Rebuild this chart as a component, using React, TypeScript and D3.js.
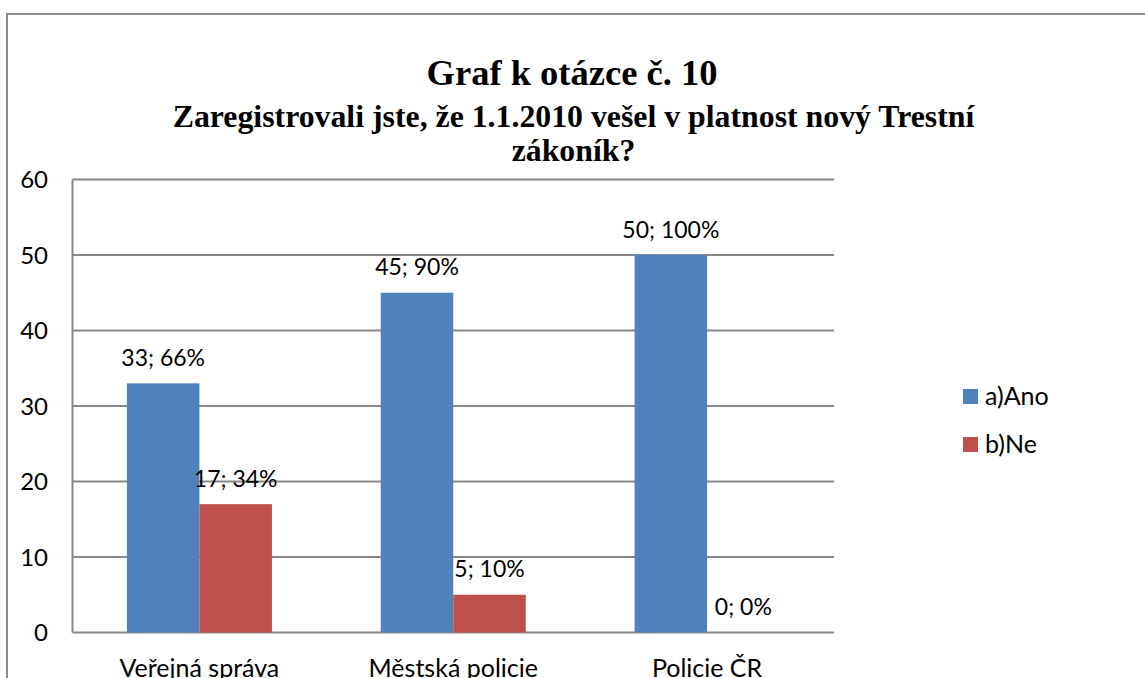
import React from 'react'
import * as d3 from 'd3'

const categories = ['Veřejná správa', 'Městská policie', 'Policie ČR']
const seriesNames = ['a)Ano', 'b)Ne']
const ano = [33, 45, 50]
const ne = [17, 5, 0]
const anoPct = ['66%', '90%', '100%']
const nePct = ['34%', '10%', '0%']
const yTicks = [0, 10, 20, 30, 40, 50, 60]
const colors = ['#4F81BD', '#C0504D']

const W = 1145, H = 678
const plot = { left: 72.5, right: 834, top: 179.5, bottom: 632.5 }
const labelFont = 'Lato, "Open Sans", sans-serif'
const titleFont = '"Liberation Serif", "Times New Roman", serif'

const App = () => {
    const x0 = d3.scaleBand<string>()
        .domain(categories)
        .range([plot.left, plot.right])
    // excel gap width 150% -> bar = band / 3.5
    const barW = x0.bandwidth() / 3.5
    const y = d3.scaleLinear().domain([0, 60]).range([plot.bottom, plot.top])

    const series = [ano, ne]
    const pcts = [anoPct, nePct]

    return (
        <svg width={W} height={H} style={{ position: 'absolute', left: 0, top: 0, background: '#fff' }}>
            <rect x={7} y={14} width={W + 20} height={H + 20} fill="#fff" stroke="#8c8c8c" strokeWidth={2} />

            <g fontFamily={titleFont} fontWeight="bold" textAnchor="middle" fill="#000">
                <text x={572} y={85} fontSize={36.5}>Graf k otázce č. 10</text>
                <text x={573.5} y={127} fontSize={31.8}>Zaregistrovali jste, že 1.1.2010 vešel v platnost nový Trestní</text>
                <text x={573.5} y={161} fontSize={31.8}>zákoník?</text>
            </g>

            {yTicks.map(t => (
                <g key={t}>
                    <line x1={plot.left} x2={plot.right} y1={y(t)} y2={y(t)} stroke="#888" strokeWidth={2} />
                    <text x={48} y={y(t)} dy="0.36em" textAnchor="end" fontFamily={labelFont} fontSize={24} fill="#000">{t}</text>
                </g>
            ))}
            <line x1={plot.left} x2={plot.left} y1={plot.top} y2={plot.bottom} stroke="#888" strokeWidth={2} />

            {categories.map((c, i) => {
                const start = x0(c)! + (x0.bandwidth() - 2 * barW) / 2
                return (
                    <g key={c}>
                        {series.map((s, k) => {
                            const bx = start + k * barW
                            return (
                                <g key={k}>
                                    <rect x={bx} y={y(s[i])} width={barW} height={plot.bottom - y(s[i])} fill={colors[k]} />
                                    <text x={bx + barW / 2} y={y(s[i]) - 17.5} textAnchor="middle"
                                        fontFamily={labelFont} fontSize={23} fill="#000">
                                        {`${s[i]}; ${pcts[k][i]}`}
                                    </text>
                                </g>
                            )
                        })}
                        <text x={x0(c)! + x0.bandwidth() / 2} y={677} textAnchor="middle"
                            fontFamily={labelFont} fontSize={25} fill="#000">{c}</text>
                    </g>
                )
            })}

            {seriesNames.map((n, k) => (
                <g key={n} transform={`translate(963, ${389 + k * 48})`}>
                    <rect width={15} height={15} fill={colors[k]} />
                    <text x={22} y={16} fontFamily={labelFont} fontSize={25} fill="#000">{n}</text>
                </g>
            ))}
        </svg>
    )
}

export default App
